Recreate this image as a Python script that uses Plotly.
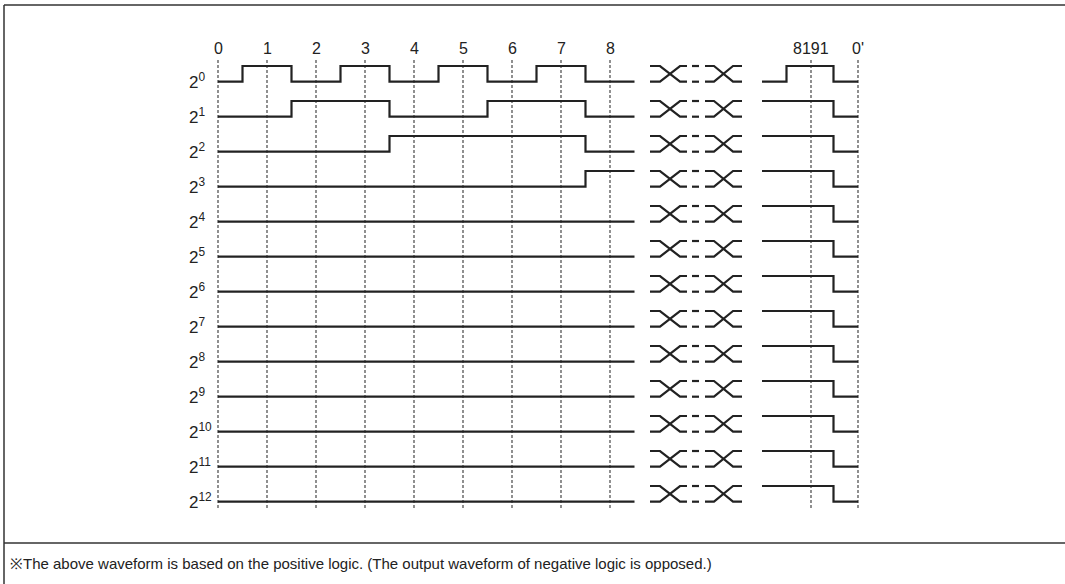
import plotly.graph_objects as go

# ---------------- data ----------------
count_labels_left = ["0", "1", "2", "3", "4", "5", "6", "7", "8"]
count_labels_right = ["8191", "0'"]
bit_labels = ["2<sup>0</sup>", "2<sup>1</sup>", "2<sup>2</sup>", "2<sup>3</sup>",
              "2<sup>4</sup>", "2<sup>5</sup>", "2<sup>6</sup>", "2<sup>7</sup>",
              "2<sup>8</sup>", "2<sup>9</sup>", "2<sup>10</sup>", "2<sup>11</sup>",
              "2<sup>12</sup>"]
# bit state at counts 0..8, one list per bit
left_states = [
    [0, 1, 0, 1, 0, 1, 0, 1, 0],
    [0, 0, 1, 1, 0, 0, 1, 1, 0],
    [0, 0, 0, 0, 1, 1, 1, 1, 0],
    [0, 0, 0, 0, 0, 0, 0, 0, 1],
    [0, 0, 0, 0, 0, 0, 0, 0, 0],
    [0, 0, 0, 0, 0, 0, 0, 0, 0],
    [0, 0, 0, 0, 0, 0, 0, 0, 0],
    [0, 0, 0, 0, 0, 0, 0, 0, 0],
    [0, 0, 0, 0, 0, 0, 0, 0, 0],
    [0, 0, 0, 0, 0, 0, 0, 0, 0],
    [0, 0, 0, 0, 0, 0, 0, 0, 0],
    [0, 0, 0, 0, 0, 0, 0, 0, 0],
    [0, 0, 0, 0, 0, 0, 0, 0, 0],
]
# bit state at counts 8190, 8191, 0'
right_states = [
    [0, 1, 0],
    [1, 1, 0],
    [1, 1, 0],
    [1, 1, 0],
    [1, 1, 0],
    [1, 1, 0],
    [1, 1, 0],
    [1, 1, 0],
    [1, 1, 0],
    [1, 1, 0],
    [1, 1, 0],
    [1, 1, 0],
    [1, 1, 0],
]
footnote = ("※The above waveform is based on the positive logic. "
            "(The output waveform of negative logic is opposed.)")

# ---------------- layout helpers ----------------
W, H = 1065, 584
X0_PX, UNIT_PX = 218.0, 49.0          # pixel of count 0, pixels per count
Y0_PX, ROW_PX = 73.85, 35.0           # pixel centre of first row, row pitch
AMP = 0.224                            # half swing in row units
LINE_C = "#222222"
GRID_C = "#555555"
FONT = "Liberation Sans, Arial, sans-serif"

def px_x(px):
    return (px - X0_PX) / UNIT_PX

def px_y(py):
    return (py - Y0_PX) / ROW_PX

def level(row, s):
    return row + AMP - 2 * AMP * s

right_pos = [px_x(811), px_x(858)]    # positions of 8191 and 0'
right_start = px_x(762)

fig = go.Figure()

# dotted count lines
all_pos = list(range(len(count_labels_left))) + right_pos
for p in all_pos:
    fig.add_shape(type="line", xref="x", yref="y", x0=p, x1=p,
                  y0=px_y(60), y1=px_y(509),
                  line=dict(color=GRID_C, width=1.3, dash="3px,2px"), layer="below")

# ellipsis "X" glyph geometry (pixel columns)
xa = [650, 660, 680, 687]
xb = [705, 714, 733, 742]
dash = [692, 699]

for r, (ls, rs) in enumerate(zip(left_states, right_states)):
    # left waveform
    xs = [0] + [i - 0.5 for i in range(1, len(ls))] + [len(ls) - 0.5]
    ys = [level(r, s) for s in ls] + [level(r, ls[-1])]
    fig.add_trace(go.Scatter(x=xs, y=ys, mode="lines", line_shape="hv",
                             line=dict(color=LINE_C, width=2.2), hoverinfo="skip"))
    # right waveform
    xs_r = [right_start, right_pos[0] - 0.5, right_pos[1] - 0.5, right_pos[1]]
    ys_r = [level(r, s) for s in rs] + [level(r, rs[-1])]
    fig.add_trace(go.Scatter(x=xs_r, y=ys_r, mode="lines", line_shape="hv",
                             line=dict(color=LINE_C, width=2.2), hoverinfo="skip"))
    # ellipsis glyph
    hi, lo = level(r, 1), level(r, 0)
    gx, gy = [], []
    for seg in (xa, xb):
        gx += [px_x(v) for v in seg] + [None] + [px_x(v) for v in seg] + [None]
        gy += [hi, hi, lo, lo, None, lo, lo, hi, hi, None]
    gx += [px_x(dash[0]), px_x(dash[1]), None, px_x(dash[0]), px_x(dash[1])]
    gy += [hi, hi, None, lo, lo]
    fig.add_trace(go.Scatter(x=gx, y=gy, mode="lines",
                             line=dict(color=LINE_C, width=2.2), hoverinfo="skip"))
    # row label
    fig.add_annotation(x=187 / W, xref="paper", y=level(r, 0) - 0.02, yref="y",
                       text=bit_labels[r], showarrow=False, xanchor="left",
                       yanchor="middle", font=dict(size=17, color=LINE_C, family=FONT))

# count labels
for i, lab in enumerate(count_labels_left):
    fig.add_annotation(x=i, y=px_y(48), text=lab, showarrow=False,
                       font=dict(size=16, color=LINE_C, family=FONT))
for p, lab in zip(right_pos, count_labels_right):
    fig.add_annotation(x=p, y=px_y(48), text=lab, showarrow=False,
                       font=dict(size=16, color=LINE_C, family=FONT))

# frame
frame = dict(color="#333333", width=1.5)
for (x0, y0, x1, y1) in [(4, 5, W, 5), (4, 5, 4, H), (4, 543, W, 543)]:
    fig.add_shape(type="line", xref="paper", yref="paper",
                  x0=x0 / W, x1=x1 / W, y0=1 - y0 / H, y1=1 - y1 / H, line=frame)

fig.add_annotation(x=8 / W, xref="paper", y=1 - 563 / H, yref="paper", text=footnote,
                   showarrow=False, xanchor="left", yanchor="middle",
                   font=dict(size=15, color=LINE_C, family=FONT))

fig.update_layout(
    width=W, height=H, margin=dict(l=0, r=0, t=0, b=0),
    paper_bgcolor="white", plot_bgcolor="white", showlegend=False,
    xaxis=dict(range=[px_x(0), px_x(W)], visible=False, fixedrange=True),
    yaxis=dict(range=[px_y(H), px_y(0)], visible=False, fixedrange=True),
)

fig.write_html("out.html", config={"displayModeBar": False},
               post_script="document.body.style.margin='0';")
